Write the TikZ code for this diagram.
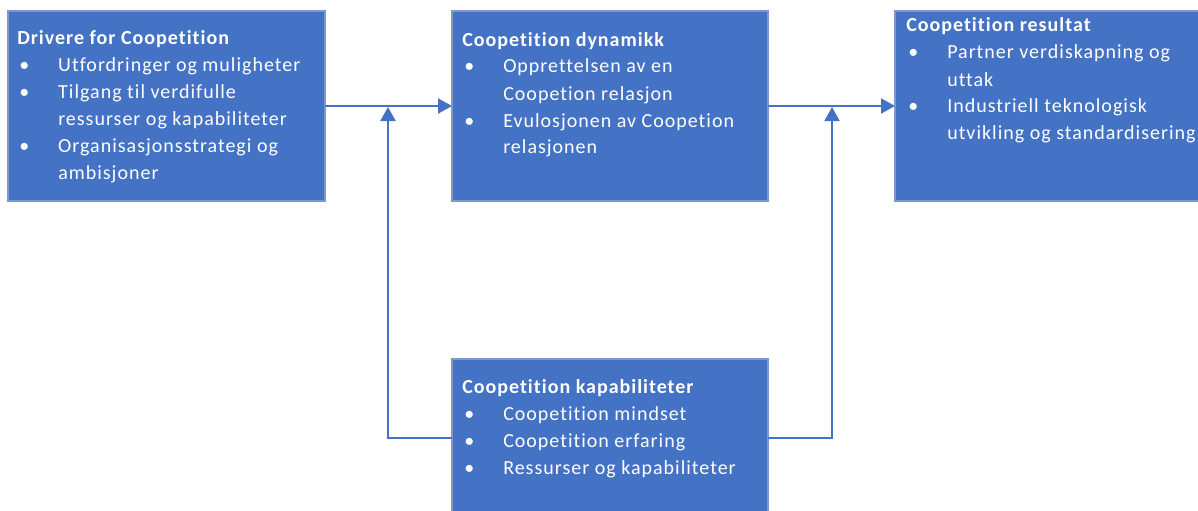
\documentclass[tikz,border=0pt]{standalone}
\usepackage{fontspec}
\setmainfont{Carlito}[Ligatures={NoCommon},LetterSpace=5]
\usetikzlibrary{arrows.meta}

\definecolor{boxfill}{RGB}{68,114,196}
\definecolor{boxedge}{RGB}{125,152,204}
\definecolor{linkcol}{RGB}{68,114,196}

% bullet list: title row followed by bullet rows
\newcommand{\blist}[1]{%
  \fontsize{15}{20.25}\selectfont\renewcommand{\arraystretch}{1}%
  \begin{tabular}[t]{@{\hspace{1.5pt}}p{29.25pt}@{}l@{}}#1\end{tabular}}
\newcommand{\btitle}[1]{\multicolumn{2}{@{}l@{}}{\bfseries #1}\\}
\newcommand{\bitem}[1]{\textbullet & #1\\}
\newcommand{\bcont}[1]{ & #1\\}

\begin{document}
\begin{tikzpicture}[x=0.75pt,y=-0.75pt,
  panel/.style={draw=boxedge,line width=0.8pt,fill=boxfill,inner sep=0pt},
  paneltext/.style={text=white,inner sep=0pt,anchor=base west},
  conn/.style={draw=linkcol,line width=1.5pt,-{Triangle[length=10.5pt,width=11.25pt]}},
  link/.style={draw=linkcol,line width=1.5pt}]
\useasboundingbox (0,0) rectangle (1198,510);

% panels
\path[panel] (8,11) rectangle (325,201) node[pos=0.5,inner sep=0pt] (drv) {};
\path[panel] (452,11) rectangle (768,201) node[pos=0.5,inner sep=0pt] (dyn) {};
\path[panel] (895,11) rectangle (1204,201) node[pos=0.5,inner sep=0pt] (res) {};
\path[panel] (452,359) rectangle (768,517) node[pos=0.5,inner sep=0pt] (kap) {};

% named anchor points on the panel edges
\coordinate (drvE) at (325,106);
\coordinate (dynW) at (452,106);
\coordinate (dynE) at (768,106);
\coordinate (resW) at (895,106);
\coordinate (kapW) at (452,438);
\coordinate (kapE) at (768,438);
\coordinate (jl) at (388,107);
\coordinate (jr) at (832,107);

% panel texts
\node[paneltext] (drvtxt) at (17,45) {\blist{%
  \btitle{Drivere for Coopetition}
  \bitem{Utfordringer og muligheter}
  \bitem{Tilgang til verdifulle}
  \bcont{ressurser og kapabiliteter}
  \bitem{Organisasjonsstrategi og}
  \bcont{ambisjoner}}};
\node[paneltext] (dyntxt) at (462,46) {\blist{%
  \btitle{Coopetition dynamikk}
  \bitem{Opprettelsen av en}
  \bcont{Coopetion relasjon}
  \bitem{Evulosjonen av Coopetion}
  \bcont{relasjonen}}};
\node[paneltext] (restxt) at (906,32) {\blist{%
  \btitle{Coopetition resultat}
  \bitem{Partner verdiskapning og}
  \bcont{uttak}
  \bitem{Industriell teknologisk}
  \bcont{utvikling og standardisering}}};
\node[paneltext] (kaptxt) at (462,393) {\blist{%
  \btitle{Coopetition kapabiliteter}
  \bitem{Coopetition mindset}
  \bitem{Coopetition erfaring}
  \bitem{Ressurser og kapabiliteter}}};

% connectors
\draw[conn] (drvE) -- (dynW);
\draw[conn] (dynE) -- (resW);
\draw[conn] (kapW) -| (jl);
\draw[conn] (kapE) -| (jr);
\end{tikzpicture}
\end{document}
